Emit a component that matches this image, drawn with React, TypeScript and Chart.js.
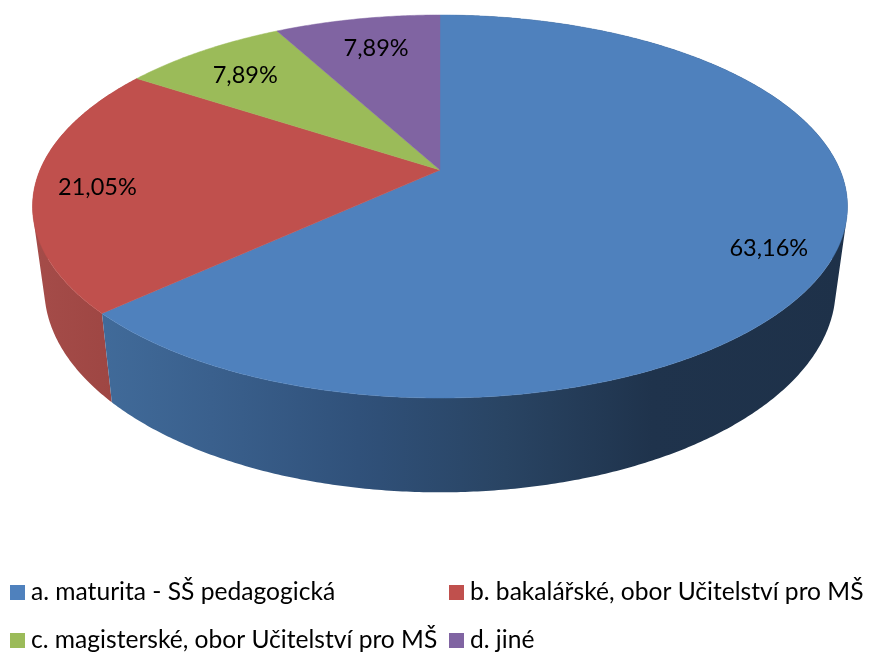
import React, { useEffect, useRef } from "react";
import { Chart, registerables } from "chart.js";

Chart.register(...registerables);

const categories = [
  "a. maturita - SŠ pedagogická",
  "b. bakalářské, obor Učitelství pro MŠ",
  "c. magisterské, obor Učitelství pro MŠ",
  "d. jiné",
];
const shares = [63.16, 21.05, 7.89, 7.89];
const topColors = ["#4f81bd", "#c0504d", "#9bbb59", "#8064a2"];

const FONT_FAMILY = "Lato, sans-serif";
const LABEL_SIZE = 23.5;
const LEGEND_SIZE = 24.6;
const CX = 440;
// Perspective of the tilted disc: top face and bottom face of the 3D pie
const TOP_FACE = { k: 400, a: 152.14, b: 170, c: -0.1906 };
const BOTTOM_FACE = { k: 388.5, a: 149.2, b: 249.6, c: -0.19 };

// Where labels sit: fraction of the radius, then a small vertical nudge
const labelRadius = [0.84, 0.848, 0.8, 0.74];
const labelNudge = [12, 4, 3, -5];

// Legend grid
const legendCols = [10, 449];
const legendRows = [585, 633];
const legendBox = 15;

function project(face: typeof TOP_FACE, angle: number, r = 1) {
  const ux = Math.cos(angle) * r;
  const uy = Math.sin(angle) * r;
  const d = 1 + face.c * uy;
  return { x: CX + (face.k * ux) / d, y: (face.a * uy + face.b) / d };
}

function sideGradient(ctx: CanvasRenderingContext2D, i: number) {
  const g = ctx.createLinearGradient(32, 0, 848, 0);
  if (i === 0) {
    g.addColorStop(0.08, "#416b9a");
    g.addColorStop(0.22, "#3a608d");
    g.addColorStop(0.4, "#30517a");
    g.addColorStop(0.58, "#294463");
    g.addColorStop(0.76, "#1f334c");
    g.addColorStop(1, "#1e3149");
  } else {
    g.addColorStop(0, "#a54c49");
    g.addColorStop(0.1, "#9e4643");
  }
  return g;
}

const pie3d = {
  id: "pie3d",
  beforeDatasetDraw(chart: any) {
    const ctx: CanvasRenderingContext2D = chart.ctx;
    const arcs = chart.getDatasetMeta(0).data;
    const step = (0.5 * Math.PI) / 180;
    ctx.save();
    // side wall: one path per slice, all quads wound the same way
    [1, 0].forEach((i) => {
      const { startAngle, endAngle } = arcs[i];
      ctx.beginPath();
      for (let t = startAngle; t < endAngle; t += step) {
        const t2 = Math.min(t + step, endAngle);
        let q = [
          project(TOP_FACE, t),
          project(TOP_FACE, t2),
          project(BOTTOM_FACE, t2),
          project(BOTTOM_FACE, t),
        ];
        let area = 0;
        q.forEach((p, j) => {
          const n = q[(j + 1) % 4];
          area += p.x * n.y - n.x * p.y;
        });
        if (area < 0) q = q.reverse();
        ctx.moveTo(q[0].x, q[0].y);
        ctx.lineTo(q[1].x, q[1].y);
        ctx.lineTo(q[2].x, q[2].y);
        ctx.lineTo(q[3].x, q[3].y);
        ctx.closePath();
      }
      ctx.fillStyle = sideGradient(ctx, i);
      ctx.fill("nonzero");
    });
    // top face
    arcs.forEach((arc: any, i: number) => {
      const apex = project(TOP_FACE, 0, 0);
      ctx.beginPath();
      ctx.moveTo(apex.x, apex.y);
      for (let t = arc.startAngle; t < arc.endAngle; t += step) {
        const p = project(TOP_FACE, t);
        ctx.lineTo(p.x, p.y);
      }
      const e = project(TOP_FACE, arc.endAngle);
      ctx.lineTo(e.x, e.y);
      ctx.closePath();
      ctx.fillStyle = topColors[i];
      ctx.strokeStyle = topColors[i];
      ctx.lineWidth = 0.5;
      ctx.fill();
      ctx.stroke();
    });
    // data labels
    ctx.fillStyle = "#000";
    ctx.font = `${LABEL_SIZE}px ${FONT_FAMILY}`;
    ctx.textAlign = "center";
    ctx.textBaseline = "middle";
    arcs.forEach((arc: any, i: number) => {
      const mid = (arc.startAngle + arc.endAngle) / 2;
      const p = project(TOP_FACE, mid, labelRadius[i]);
      const text = shares[i].toFixed(2).replace(".", ",") + "%";
      ctx.fillText(text, p.x, p.y + labelNudge[i]);
    });
    // legend
    ctx.font = `${LEGEND_SIZE}px ${FONT_FAMILY}`;
    ctx.textAlign = "left";
    ctx.textBaseline = "alphabetic";
    categories.forEach((label, i) => {
      const x = legendCols[i % 2];
      const y = legendRows[Math.floor(i / 2)];
      ctx.fillStyle = topColors[i];
      ctx.fillRect(x, y, legendBox, legendBox);
      ctx.fillStyle = "#000";
      ctx.fillText(label, x + legendBox + 6, y + legendBox);
    });
    ctx.restore();
    return false;
  },
};

export default function App() {
  const ref = useRef<HTMLCanvasElement | null>(null);
  useEffect(() => {
    const chart = new Chart(ref.current as HTMLCanvasElement, {
      type: "pie",
      data: {
        labels: categories,
        datasets: [{ data: shares, backgroundColor: topColors, borderWidth: 0 }],
      },
      options: {
        animation: false,
        responsive: false,
        plugins: { legend: { display: false }, tooltip: { enabled: false } },
      },
      plugins: [pie3d as any],
    });
    return () => chart.destroy();
  }, []);
  return (
    <div style={{ position: "absolute", left: 0, top: 0, width: 871, height: 653, background: "#fff" }}>
      <canvas ref={ref} width={871} height={653} style={{ display: "block" }} />
    </div>
  );
}
